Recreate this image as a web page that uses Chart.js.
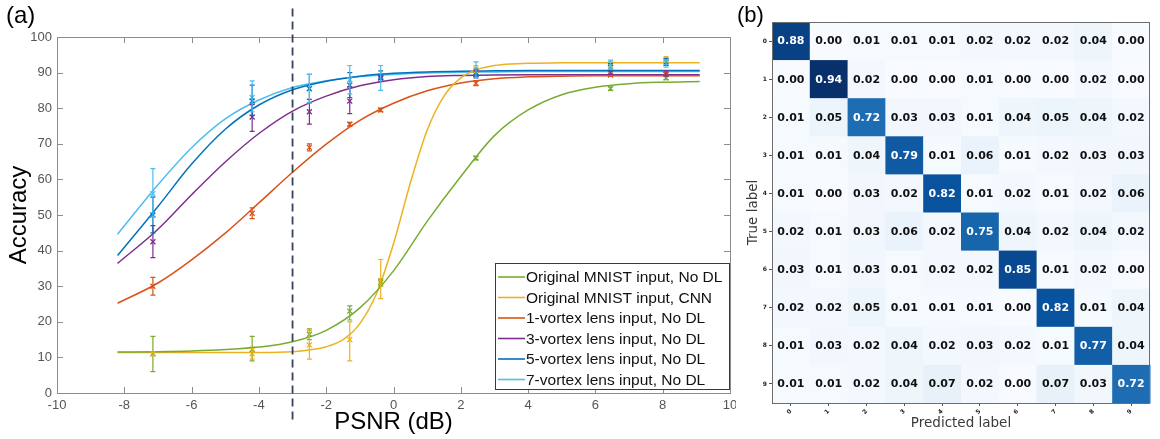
<!DOCTYPE html>
<html>
<head>
<meta charset="utf-8">
<script src="https://cdn.jsdelivr.net/npm/chart.js@4.4.1/dist/chart.umd.min.js"></script>
<style>
  html, body { margin: 0; padding: 0; background: #fff; }
  #wrapA { position: absolute; left: 0; top: 0; width: 736px; height: 439px; }
  #wrapB { position: absolute; left: 736px; top: 0; width: 424px; height: 439px; }
</style>
</head>
<body>
<div id="wrapA"><canvas id="psnr"></canvas></div>
<div id="wrapB"><canvas id="conf"></canvas></div>
<script>
// ── Panel (a) data: fitted curves ─────────────────────────────────────────
const fitX      = [-8.2, -7, -6, -5, -4, -3, -2, -1, 0, 1, 2, 3, 4, 5, 6, 7, 8, 9.1];
const fitGreen  = [11.5, 11.6, 11.8, 12.2, 12.9, 14.4, 17.6, 23.9, 34.3, 48.2, 60.8, 72.3, 79.5, 83.8, 85.9, 86.9, 87.3, 87.5];
const fitOrange = [25.2, 30.9, 37.4, 44.9, 53.4, 62.0, 69.9, 76.6, 81.4, 84.9, 87.1, 88.3, 88.8, 89.0, 89.1, 89.1, 89.1, 89.1];
const fitPurple = [36.4, 46.0, 55.7, 64.9, 72.9, 79.2, 83.4, 86.3, 88.0, 88.9, 89.2, 89.35, 89.4, 89.4, 89.4, 89.4, 89.4, 89.4];
const fitBlue   = [38.6, 52.4, 64.3, 74.1, 80.9, 85.2, 87.6, 89.0, 89.8, 90.2, 90.4, 90.5, 90.6, 90.6, 90.6, 90.6, 90.6, 90.6];
const fitCyan   = [44.6, 58.5, 68.9, 77.0, 82.3, 85.8, 87.7, 88.9, 89.5, 89.9, 90.1, 90.2, 90.3, 90.3, 90.3, 90.3, 90.3, 90.3];

const cnnFitX   = [-8.2, -7, -6, -5, -4, -3, -2.5, -2, -1.5, -1, -0.5, 0, 0.5, 1, 1.5, 2, 2.5, 3, 3.5, 4, 5, 6, 7, 8, 9.1];
const fitYellow = [11.4, 11.4, 11.4, 11.4, 11.4, 11.6, 12.1, 13.0, 15.0, 19.5, 28.0, 41.9, 59.0, 73.8, 83.4, 88.5, 90.9, 92.0, 92.45, 92.6, 92.8, 92.8, 92.8, 92.8, 92.8];

// ── Panel (a) data: measured points with error bars ──────────────────────
const measX    = [-7.15, -4.2, -2.5, -1.3, -0.38, 2.45, 6.45, 8.1];
const greenY   = [11.0, 12.3, 16.5, 23.0, 31.0, 66.0, 85.5, 88.5];
const greenLo  = [6.0, 9.0, 15.0, 20.5, 30.0, 65.5, 85.0, 88.0];
const greenHi  = [15.9, 15.9, 18.0, 24.5, 32.0, 66.5, 86.0, 89.0];
const yellowY  = [11.0, 11.0, 13.5, 15.0, 31.5, 91.0, 92.0, 93.5];
const yellowLo = [10.5, 9.5, 9.5, 9.0, 26.5, 90.0, 91.0, 93.0];
const yellowHi = [11.5, 12.5, 17.5, 20.0, 37.5, 92.0, 93.0, 94.5];
const orangeY  = [30.0, 50.5, 69.0, 75.5, 79.5, 87.0, 89.3, 89.5];
const orangeLo = [27.5, 49.0, 68.0, 75.0, 79.0, 86.3, 89.0, 89.0];
const orangeHi = [32.5, 52.0, 70.0, 76.0, 80.0, 87.7, 89.6, 90.0];
const purpleY  = [42.5, 77.5, 79.0, 82.0, 88.5, 89.5, 90.0, 89.5];
const purpleLo = [38.0, 73.5, 75.5, 78.5, 88.0, 88.5, 89.5, 89.0];
const purpleHi = [47.0, 81.0, 82.5, 86.0, 89.0, 90.5, 90.5, 90.5];
const blueY    = [50.0, 82.0, 85.5, 86.5, 89.0, 90.0, 91.5, 93.0];
const blueLo   = [45.0, 78.0, 81.5, 83.0, 87.5, 89.0, 90.5, 92.0];
const blueHi   = [55.0, 86.5, 89.5, 90.0, 90.5, 91.0, 92.5, 94.0];
const cyanY    = [56.0, 83.0, 85.5, 88.0, 88.5, 90.0, 92.5, 92.5];
const cyanLo   = [49.5, 79.0, 81.5, 84.0, 85.0, 88.5, 91.0, 91.5];
const cyanHi   = [63.0, 87.7, 89.5, 92.0, 92.0, 93.0, 93.5, 93.5];

const seriesNames = [
  'Original MNIST input, No DL',
  'Original MNIST input, CNN',
  '1-vortex lens input, No DL',
  '3-vortex lens input, No DL',
  '5-vortex lens input, No DL',
  '7-vortex lens input, No DL',
];
const thresholdPSNR = -3;

// ── Panel (b) data: confusion matrix ─────────────────────────────────────
const digitLabels = ['0', '1', '2', '3', '4', '5', '6', '7', '8', '9'];
const confRows = [
  [0.88, 0.00, 0.01, 0.01, 0.01, 0.02, 0.02, 0.02, 0.04, 0.00],
  [0.00, 0.94, 0.02, 0.00, 0.00, 0.01, 0.00, 0.00, 0.02, 0.00],
  [0.01, 0.05, 0.72, 0.03, 0.03, 0.01, 0.04, 0.05, 0.04, 0.02],
  [0.01, 0.01, 0.04, 0.79, 0.01, 0.06, 0.01, 0.02, 0.03, 0.03],
  [0.01, 0.00, 0.03, 0.02, 0.82, 0.01, 0.02, 0.01, 0.02, 0.06],
  [0.02, 0.01, 0.03, 0.06, 0.02, 0.75, 0.04, 0.02, 0.04, 0.02],
  [0.03, 0.01, 0.03, 0.01, 0.02, 0.02, 0.85, 0.01, 0.02, 0.00],
  [0.02, 0.02, 0.05, 0.01, 0.01, 0.01, 0.00, 0.82, 0.01, 0.04],
  [0.01, 0.03, 0.02, 0.04, 0.02, 0.03, 0.02, 0.01, 0.77, 0.04],
  [0.01, 0.01, 0.02, 0.04, 0.07, 0.02, 0.00, 0.07, 0.03, 0.72],
];

// ── Styling ──────────────────────────────────────────────────────────────
const SANS = "'Liberation Sans', Arial, Helvetica, sans-serif";
const DV   = "'DejaVu Sans', Verdana, sans-serif";
const seriesColors = ['#77AC30', '#EDB120', '#D95319', '#7E2F8E', '#0072BD', '#4DBEEE'];
const C = {
  frame:   '#8c8c8c',
  tick:    '#555555',
  dash:    '#34435a',
  legendB: '#3a3a3a',
  cmFrame: '#6e6e6e',
};

const zip = (xs, ys) => xs.map((x, i) => ({ x, y: ys[i] }));

const fitSets = [
  zip(fitX, fitGreen), zip(cnnFitX, fitYellow), zip(fitX, fitOrange),
  zip(fitX, fitPurple), zip(fitX, fitBlue), zip(fitX, fitCyan),
];
const markSets = [
  [greenY, greenLo, greenHi], [yellowY, yellowLo, yellowHi], [orangeY, orangeLo, orangeHi],
  [purpleY, purpleLo, purpleHi], [blueY, blueLo, blueHi], [cyanY, cyanLo, cyanHi],
];

const datasets = [];
markSets.forEach(([ys, lo, hi], i) => {
  datasets.push({
    label: seriesNames[i] + ' (data)',
    data: zip(measX, ys),
    errLo: lo, errHi: hi,
    showLine: false,
    pointStyle: 'crossRot',
    pointRadius: 3.5,
    borderWidth: 1.3,
    borderColor: seriesColors[i],
    backgroundColor: seriesColors[i],
  });
});
fitSets.forEach((pts, i) => {
  datasets.push({
    label: seriesNames[i],
    data: pts,
    showLine: true,
    pointRadius: 0,
    borderWidth: 1.5,
    borderColor: seriesColors[i],
    cubicInterpolationMode: 'monotone',
  });
});

// ── Plugins for panel (a) ────────────────────────────────────────────────
const errorBars = {
  id: 'errorBars',
  afterDatasetsDraw(chart) {
    const { ctx, scales: { x, y } } = chart;
    chart.data.datasets.forEach(ds => {
      if (!ds.errLo) return;
      ctx.save();
      ctx.strokeStyle = ds.borderColor;
      ctx.lineWidth = 1.2;
      ds.data.forEach((p, i) => {
        const px = x.getPixelForValue(p.x);
        const y0 = y.getPixelForValue(ds.errLo[i]);
        const y1 = y.getPixelForValue(ds.errHi[i]);
        ctx.beginPath();
        ctx.moveTo(px, y0); ctx.lineTo(px, y1);
        ctx.moveTo(px - 2.5, y0); ctx.lineTo(px + 2.5, y0);
        ctx.moveTo(px - 2.5, y1); ctx.lineTo(px + 2.5, y1);
        ctx.stroke();
      });
      ctx.restore();
    });
  },
};

const matlabFrame = {
  id: 'matlabFrame',
  afterDatasetsDraw(chart) {
    const { ctx, chartArea: a, scales: { x, y } } = chart;
    ctx.save();
    ctx.strokeStyle = C.frame;
    ctx.lineWidth = 1;
    ctx.strokeRect(Math.round(a.left) + 0.5, Math.round(a.top) + 0.5,
                   Math.round(a.right - a.left), Math.round(a.bottom - a.top));
    ctx.beginPath();
    x.ticks.forEach(t => {
      const px = Math.round(x.getPixelForValue(t.value)) + 0.5;
      ctx.moveTo(px, a.bottom); ctx.lineTo(px, a.bottom - 6);
      ctx.moveTo(px, a.top);    ctx.lineTo(px, a.top + 6);
    });
    y.ticks.forEach(t => {
      const py = Math.round(y.getPixelForValue(t.value)) + 0.5;
      ctx.moveTo(a.left, py);  ctx.lineTo(a.left + 6, py);
      ctx.moveTo(a.right, py); ctx.lineTo(a.right - 6, py);
    });
    ctx.stroke();

    // dashed threshold line, running past the axes box
    const tx = x.getPixelForValue(thresholdPSNR);
    ctx.beginPath();
    ctx.strokeStyle = C.dash;
    ctx.lineWidth = 1.8;
    ctx.setLineDash([8, 5]);
    ctx.moveTo(tx, y.getPixelForValue(108));
    ctx.lineTo(tx, y.getPixelForValue(-7.5));
    ctx.stroke();
    ctx.setLineDash([]);

    ctx.fillStyle = '#000';
    ctx.font = `24px ${SANS}`;
    ctx.textBaseline = 'middle';
    ctx.textAlign = 'left';
    ctx.fillText('(a)', 6, 16);
    ctx.restore();
  },
};

const legendBox = {
  id: 'legendBox',
  afterDraw(chart) {
    const { ctx, chartArea: a } = chart;
    const w = 234, h = 126;
    const bx = Math.round(a.right) - 1 - w, by = Math.round(a.bottom) - 4 - h;
    ctx.save();
    ctx.fillStyle = '#fff';
    ctx.fillRect(bx, by, w, h);
    ctx.strokeStyle = C.legendB;
    ctx.lineWidth = 1;
    ctx.strokeRect(bx + 0.5, by + 0.5, w, h);
    ctx.font = `15.5px ${SANS}`;
    ctx.textBaseline = 'middle';
    ctx.textAlign = 'left';
    seriesNames.forEach((name, i) => {
      const ry = by + 14 + i * 20.5;
      ctx.strokeStyle = seriesColors[i];
      ctx.lineWidth = 1.6;
      ctx.beginPath();
      ctx.moveTo(bx + 3, ry); ctx.lineTo(bx + 30, ry);
      ctx.stroke();
      ctx.fillStyle = '#111';
      ctx.fillText(name, bx + 31, ry + 1);
    });
    ctx.restore();
  },
};

const noOverhang = s => { s.paddingLeft = 0; s.paddingRight = 0; };

new Chart(document.getElementById('psnr'), {
  type: 'scatter',
  data: { datasets },
  options: {
    responsive: true,
    maintainAspectRatio: false,
    animation: false,
    layout: { padding: { top: 37, right: 6, left: 0, bottom: 0 } },
    plugins: { legend: { display: false }, tooltip: { enabled: false } },
    scales: {
      x: {
        type: 'linear', min: -10, max: 10,
        ticks: { stepSize: 2, color: C.tick, font: { family: SANS, size: 13 }, padding: 5, maxRotation: 0 },
        grid: { display: false, drawTicks: false },
        border: { display: false },
        title: { display: true, text: 'PSNR (dB)', color: '#000', font: { family: SANS, size: 24 }, padding: { top: 0, bottom: 2 } },
        afterFit: s => { s.height = 46; noOverhang(s); },
      },
      y: {
        min: 0, max: 100,
        ticks: { stepSize: 10, color: C.tick, font: { family: SANS, size: 13 }, padding: 5 },
        grid: { display: false, drawTicks: false },
        border: { display: false },
        title: { display: true, text: 'Accuracy', color: '#000', font: { family: SANS, size: 24 }, padding: { top: 5, bottom: 0 } },
        afterFit: s => { s.width = 57; },
      },
    },
  },
  plugins: [matlabFrame, errorBars, legendBox],
});

// ── Panel (b): confusion matrix ──────────────────────────────────────────
const BLUES = ['#f7fbff', '#deebf7', '#c6dbef', '#9ecae1', '#6baed6', '#4292c6', '#2171b5', '#08519c', '#08306b'];
function blues(t) {
  t = Math.max(0, Math.min(1, t));
  const f = t * (BLUES.length - 1), i = Math.min(Math.floor(f), BLUES.length - 2), u = f - i;
  const a = parseInt(BLUES[i].slice(1), 16), b = parseInt(BLUES[i + 1].slice(1), 16);
  const ch = s => Math.round(((a >> s) & 255) * (1 - u) + ((b >> s) & 255) * u);
  return `rgb(${ch(16)},${ch(8)},${ch(0)})`;
}
const vMax = Math.max(...confRows.flat());

const cells = [];
confRows.forEach((row, r) => row.forEach((v, c) => cells.push({ x: c, y: r, v })));

const heatCells = {
  id: 'heatCells',
  beforeDatasetsDraw(chart) {
    const { ctx, chartArea: a, scales: { x, y } } = chart;
    ctx.save();
    cells.forEach(p => {
      const x0 = x.getPixelForValue(p.x - 0.5), x1 = x.getPixelForValue(p.x + 0.5);
      const y0 = y.getPixelForValue(p.y - 0.5), y1 = y.getPixelForValue(p.y + 0.5);
      ctx.fillStyle = blues(p.v / vMax);
      ctx.fillRect(x0, y0, x1 - x0 + 0.5, y1 - y0 + 0.5);
    });
    ctx.font = `bold 11px ${DV}`;
    ctx.textAlign = 'center';
    ctx.textBaseline = 'middle';
    cells.forEach(p => {
      ctx.fillStyle = p.v > vMax / 2 ? '#ffffff' : '#111111';
      ctx.fillText(p.v.toFixed(2), x.getPixelForValue(p.x), y.getPixelForValue(p.y) + 0.5);
    });
    ctx.strokeStyle = C.cmFrame;
    ctx.lineWidth = 1;
    ctx.strokeRect(Math.round(a.left) + 0.5, Math.round(a.top) + 0.5,
                   Math.round(a.right - a.left) - 1, Math.round(a.bottom - a.top));
    ctx.fillStyle = '#000';
    ctx.font = `22px ${SANS}`;
    ctx.textAlign = 'left';
    ctx.fillText('(b)', 1, 16);
    ctx.restore();
  },
};

const digitTicks = s => { s.ticks = digitLabels.map((_, i) => ({ value: i })); };

new Chart(document.getElementById('conf'), {
  type: 'scatter',
  data: { datasets: [{ data: cells, pointRadius: 0 }] },
  options: {
    responsive: true,
    maintainAspectRatio: false,
    animation: false,
    layout: { padding: { top: 22, right: 10, left: 0, bottom: 0 } },
    plugins: { legend: { display: false }, tooltip: { enabled: false } },
    scales: {
      x: {
        type: 'linear', min: -0.5, max: 9.5,
        afterBuildTicks: digitTicks,
        ticks: {
          callback: v => digitLabels[v], color: '#222',
          font: { family: DV, size: 6, weight: 'bold' },
          minRotation: 45, maxRotation: 45, padding: 2,
        },
        grid: { drawOnChartArea: false, drawTicks: true, tickLength: 3, color: '#555' },
        border: { display: false },
        title: { display: true, text: 'Predicted label', color: '#3a3a3a', font: { family: DV, size: 13.5 }, padding: { top: 0, bottom: 7 } },
        afterFit: s => { s.height = 36; noOverhang(s); },
      },
      y: {
        type: 'linear', min: -0.5, max: 9.5, reverse: true,
        afterBuildTicks: digitTicks,
        ticks: { callback: v => digitLabels[v], color: '#222', font: { family: DV, size: 6, weight: 'bold' }, padding: 2 },
        grid: { drawOnChartArea: false, drawTicks: true, tickLength: 3, color: '#555' },
        border: { display: false },
        title: { display: true, text: 'True label', color: '#3a3a3a', font: { family: DV, size: 13.5 }, padding: { top: 9, bottom: 0 } },
        afterFit: s => { s.width = 36; },
      },
    },
  },
  plugins: [heatCells],
});
</script>
</body>
</html>
